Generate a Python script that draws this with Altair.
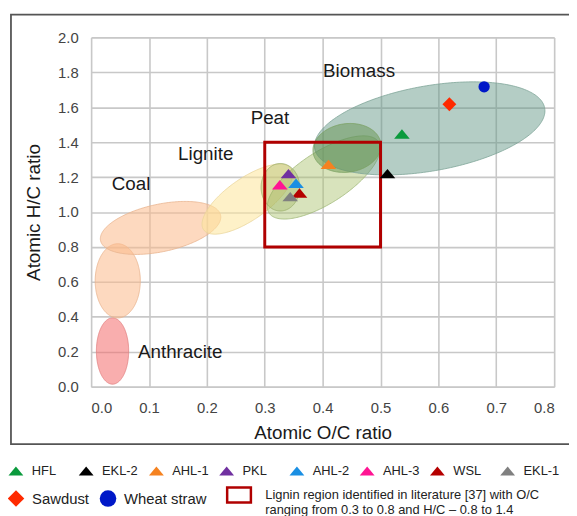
import numpy as np
import pandas as pd
import altair as alt

# ---------------- data ----------------
sample_names = ["HFL", "EKL-2", "AHL-1", "PKL", "AHL-2", "AHL-3", "WSL", "EKL-1"]
sample_oc = [0.537, 0.512, 0.410, 0.341, 0.354, 0.326, 0.360, 0.344]
sample_hc = [1.447, 1.220, 1.273, 1.220, 1.165, 1.156, 1.109, 1.088]
sample_colors = ["#0a9a3c", "#000000", "#f58220", "#7030a0", "#1a8fe3", "#ff1493", "#b50000", "#808080"]

ref_names = ["Sawdust", "Wheat straw"]
ref_oc = [0.619, 0.679]
ref_hc = [1.617, 1.717]
ref_colors = ["#ff2a00", "#0018c8"]

zone_names = ["Anthracite", "Coal (low)", "Coal", "Lignite", "Peat", "Peat core", "Biomass", "Peat/Biomass"]
zone_cx = [0.037, 0.046, 0.120, 0.270, 0.402, 0.327, 0.585, 0.442]
zone_cy = [0.204, 0.606, 0.909, 1.074, 1.198, 1.142, 1.479, 1.367]
zone_a_px = [16.3, 22.8, 62, 54, 66, 19.5, 118, 34.5]
zone_b_px = [33.5, 37.5, 24, 21, 26, 24, 43, 24.5]
zone_angle = [0, 0, 12, 35, 33, 0, 10, 8]
zone_fill = ["#f46b6b", "#fbb98a", "#fbb98a", "#fde69a", "#a8c26a", "#9aae5a", "#5f9584", "#5e8f45"]
zone_opacity = [0.55, 0.55, 0.55, 0.55, 0.45, 0.35, 0.47, 0.45]
zone_stroke = ["#e08080", "#e8b48f", "#e8b48f", "#e9d59a", "#a0b878", "#9aae6a", "#7fa598", "#7aa060"]

label_text = ["Biomass", "Peat", "Lignite", "Coal", "Anthracite"]
label_oc = [0.463, 0.309, 0.198, 0.069, 0.154]
label_hc = [1.805, 1.538, 1.334, 1.163, 0.199]

box_label = "Lignin region identified in literature [37] with O/C|ranging from 0.3 to 0.8 and H/C \u2013 0.8 to 1.4"
box_oc = [0.3, 0.5]
box_hc = [0.8, 1.4]

# ---------------- geometry ----------------
W, H = 468, 353
X_MAX, Y_MAX = 0.8, 2.0
PX_X = W / X_MAX
PX_Y = H / Y_MAX

rows = []
for k, name in enumerate(zone_names):
    a, b = zone_a_px[k], zone_b_px[k]
    th = np.radians(zone_angle[k])
    c, s = np.cos(th), np.sin(th)
    umax = np.sqrt(a * a * c * c + b * b * s * s)
    A = s * s / a ** 2 + c * c / b ** 2
    for t in np.linspace(np.pi, 0, 121):
        u = umax * np.cos(t)
        B = 2 * u * c * s * (1 / a ** 2 - 1 / b ** 2)
        C = u * u * (c * c / a ** 2 + s * s / b ** 2) - 1
        d = max(B * B - 4 * A * C, 0.0)
        v1 = (-B - np.sqrt(d)) / (2 * A)
        v2 = (-B + np.sqrt(d)) / (2 * A)
        rows.append({"zone": name,
                     "x": zone_cx[k] + u / PX_X,
                     "ylo": zone_cy[k] + v1 / PX_Y,
                     "yhi": zone_cy[k] + v2 / PX_Y})
zones_df = pd.DataFrame(rows)

samples_df = pd.DataFrame({"sample": sample_names, "oc": sample_oc, "hc": sample_hc})
refs_df = pd.DataFrame({"ref": ref_names, "oc": ref_oc, "hc": ref_hc})
labels_df = pd.DataFrame({"txt": label_text, "oc": label_oc, "hc": label_hc})
box_df = pd.DataFrame({"region": [box_label], "x1": [box_oc[0]], "x2": [box_oc[1]],
                       "y1": [box_hc[0]], "y2": [box_hc[1]]})

FONT = "Liberation Sans"
xscale = alt.Scale(domain=[0, X_MAX], nice=False, zero=False)
yscale = alt.Scale(domain=[0, Y_MAX], nice=False, zero=False)
xaxis = alt.Axis(title="Atomic O/C ratio", values=[0, 0.1, 0.2, 0.3, 0.4, 0.5, 0.6, 0.7, 0.8],
                 format=".1f", grid=True, ticks=False, domain=False, labelPadding=14,
                 titlePadding=8, labelFontSize=15, titleFontSize=19, titleFontWeight="normal",
                 labelColor="#444444", titleColor="#1a1a1a", labelFont=FONT, titleFont=FONT,
                 gridColor="#c8c8c8", gridWidth=1.6)
yaxis = alt.Axis(title="Atomic H/C ratio", values=[0, 0.2, 0.4, 0.6, 0.8, 1.0, 1.2, 1.4, 1.6, 1.8, 2.0],
                 format=".1f", grid=True, ticks=False, domain=False, labelPadding=13,
                 titlePadding=14, labelFontSize=15, titleFontSize=19, titleFontWeight="normal",
                 labelColor="#444444", titleColor="#1a1a1a", labelFont=FONT, titleFont=FONT,
                 gridColor="#c8c8c8", gridWidth=1.6)


def X(field):
    return alt.X(field, type="quantitative", scale=xscale, axis=xaxis)


def Y(field):
    return alt.Y(field, type="quantitative", scale=yscale, axis=yaxis)


frame = alt.Chart(pd.DataFrame({"d": [0]})).mark_rect(
    fill="white", fillOpacity=0, stroke="#555555", strokeWidth=1.8
).encode(x=alt.value(-81), x2=alt.value(495), y=alt.value(-23), y2=alt.value(411))

layers = [frame]
for k, name in enumerate(zone_names):
    layers.append(
        alt.Chart(zones_df).transform_filter(alt.datum.zone == name).mark_area(
            fill=zone_fill[k], fillOpacity=zone_opacity[k], stroke=zone_stroke[k],
            strokeWidth=1, strokeOpacity=0.8
        ).encode(x=X("x"), y=Y("ylo"), y2="yhi")
    )

BOX_PATH = "M-1,-0.625L1,-0.625L1,0.625L-1,0.625Z"
box = alt.Chart(box_df).mark_rect(filled=False, strokeWidth=3).encode(
    x=X("x1"), x2="x2", y=Y("y1"), y2="y2",
    stroke=alt.Stroke("region:N", scale=alt.Scale(domain=[box_label], range=["#b00000"]),
                      legend=alt.Legend(title=None, orient="none", legendX=136, legendY=449,
                                        symbolType=BOX_PATH, symbolSize=576, symbolStrokeWidth=2.5,
                                        labelExpr="split(datum.label, '|')", labelFont=FONT,
                                        labelFontSize=13, labelOffset=13, labelColor="#222222",
                                        labelLimit=0))
)
layers.append(box)

TRI = "M0,-0.6L1,0.6L-1,0.6Z"
pts = alt.Chart(samples_df).mark_point(filled=True, shape=TRI, size=250, opacity=1).encode(
    x=X("oc"), y=Y("hc"),
    color=alt.Color("sample:N", scale=alt.Scale(domain=sample_names, range=sample_colors),
                    legend=alt.Legend(title=None, orient="none", legendX=-83.5, legendY=430.5,
                                      direction="horizontal", columns=8, gridAlign="all",
                                      symbolType=TRI, symbolSize=225,
                                      symbolStrokeWidth=0, symbolOpacity=1, labelFont=FONT,
                                      labelFontSize=13, labelOffset=8.5, labelColor="#222222"))
)
layers.append(pts)

ref_legend = alt.Legend(title=None, orient="none", legendX=-84.4, legendY=457.6,
                        direction="horizontal", columns=2, gridAlign="none",
                        symbolSize=280, symbolStrokeWidth=0, symbolOpacity=1, labelFont=FONT,
                        labelFontSize=15, labelOffset=7.7, labelColor="#222222")
ref_fill = alt.Fill("ref:N", scale=alt.Scale(domain=ref_names, range=ref_colors), legend=ref_legend)
ref_shape = alt.Shape("ref:N", scale=alt.Scale(domain=ref_names, range=["diamond", "circle"]),
                      legend=ref_legend)
for nm, sz in zip(ref_names, [196, 130]):
    layers.append(
        alt.Chart(refs_df).transform_filter(alt.datum.ref == nm).mark_point(
            filled=True, size=sz, opacity=1, strokeWidth=0
        ).encode(x=X("oc"), y=Y("hc"), fill=ref_fill, shape=ref_shape)
    )

texts = alt.Chart(labels_df).mark_text(font=FONT, fontSize=19, color="#1a1a1a").encode(
    x=X("oc"), y=Y("hc"), text="txt:N"
)
layers.append(texts)

chart = alt.layer(*layers).properties(
    width=W, height=H,
    padding={"left": 84, "top": 27, "right": 15, "bottom": 128},
    autosize=alt.AutoSizeParams(type="none"),
).configure_view(stroke="#808080", strokeWidth=1.6).configure(font=FONT, background="white")

chart.save("out.html", embed_options={"renderer": "svg", "actions": False})
